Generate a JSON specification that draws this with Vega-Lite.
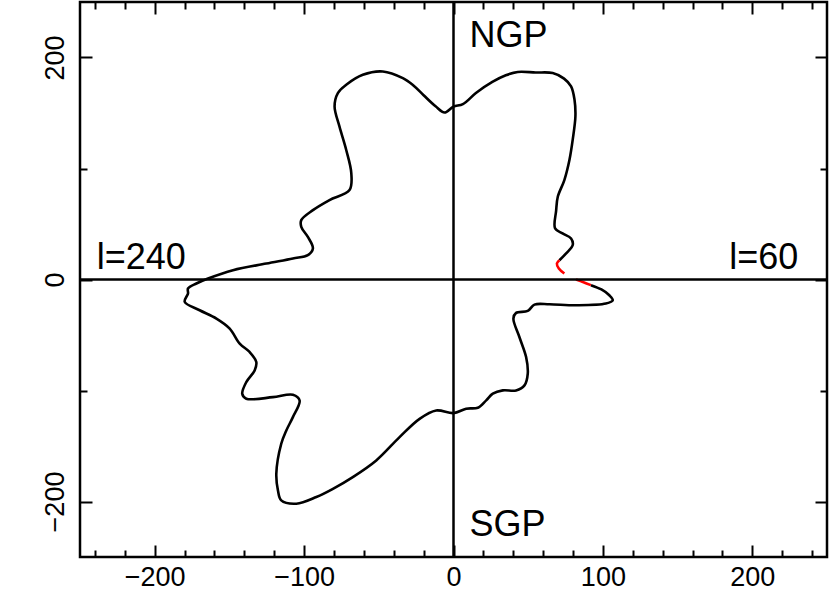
{
  "$schema": "https://vega.github.io/schema/vega-lite/v6.json",
  "width": 747,
  "height": 555,
  "autosize": {"type": "none"},
  "padding": {"left": 80, "top": 2, "right": 4, "bottom": 33},
  "background": "white",
  "config": {
    "view": {"stroke": "black", "strokeWidth": 2.5},
    "axis": {"domain": false, "grid": false, "title": null, "tickColor": "black", "tickWidth": 2, "labelColor": "black", "labelFont": "Liberation Sans", "labelFontSize": 27, "labelFlush": false, "labelOverlap": false}
  },
  "datasets": {
    "curve": [
      {"seg": "b", "i": 1, "x": 92, "y": -5.1},
      {"seg": "b", "i": 2, "x": 99, "y": -9},
      {"seg": "b", "i": 3, "x": 104.3, "y": -14.2},
      {"seg": "b", "i": 4, "x": 106.6, "y": -18.7},
      {"seg": "b", "i": 5, "x": 102, "y": -21.7},
      {"seg": "b", "i": 6, "x": 82, "y": -23.2},
      {"seg": "b", "i": 7, "x": 64.2, "y": -22.3},
      {"seg": "b", "i": 8, "x": 54.2, "y": -22.6},
      {"seg": "b", "i": 9, "x": 49.7, "y": -28.3},
      {"seg": "b", "i": 10, "x": 41.9, "y": -30.1},
      {"seg": "b", "i": 11, "x": 40.1, "y": -35.2},
      {"seg": "b", "i": 12, "x": 44.1, "y": -51.8},
      {"seg": "b", "i": 13, "x": 48.6, "y": -69.9},
      {"seg": "b", "i": 14, "x": 49.7, "y": -84.8},
      {"seg": "b", "i": 15, "x": 47.5, "y": -95.4},
      {"seg": "b", "i": 16, "x": 41.9, "y": -99.9},
      {"seg": "b", "i": 17, "x": 33, "y": -99.9},
      {"seg": "b", "i": 18, "x": 26.3, "y": -102.9},
      {"seg": "b", "i": 19, "x": 21.9, "y": -108.9},
      {"seg": "b", "i": 20, "x": 16.3, "y": -115.5},
      {"seg": "b", "i": 21, "x": 8.5, "y": -116.4},
      {"seg": "b", "i": 22, "x": 0, "y": -120.4},
      {"seg": "b", "i": 23, "x": -11.6, "y": -118},
      {"seg": "b", "i": 24, "x": -22.7, "y": -125.5},
      {"seg": "b", "i": 25, "x": -36.1, "y": -142},
      {"seg": "b", "i": 26, "x": -51.7, "y": -163},
      {"seg": "b", "i": 27, "x": -67.4, "y": -178},
      {"seg": "b", "i": 28, "x": -80.7, "y": -188.6},
      {"seg": "b", "i": 29, "x": -91.8, "y": -196},
      {"seg": "b", "i": 30, "x": -105.2, "y": -202},
      {"seg": "b", "i": 31, "x": -115.3, "y": -199},
      {"seg": "b", "i": 32, "x": -117.5, "y": -190},
      {"seg": "b", "i": 33, "x": -118.6, "y": -175},
      {"seg": "b", "i": 34, "x": -115.3, "y": -148},
      {"seg": "b", "i": 35, "x": -111.9, "y": -136},
      {"seg": "b", "i": 36, "x": -107.5, "y": -124},
      {"seg": "b", "i": 37, "x": -103, "y": -109},
      {"seg": "b", "i": 38, "x": -107.5, "y": -103.8},
      {"seg": "b", "i": 39, "x": -120.9, "y": -106},
      {"seg": "b", "i": 40, "x": -138.7, "y": -107.4},
      {"seg": "b", "i": 41, "x": -141.4, "y": -103},
      {"seg": "b", "i": 42, "x": -138.7, "y": -92.4},
      {"seg": "b", "i": 43, "x": -133.1, "y": -81.9},
      {"seg": "b", "i": 44, "x": -132, "y": -74.4},
      {"seg": "b", "i": 45, "x": -136.5, "y": -65.3},
      {"seg": "b", "i": 46, "x": -143.1, "y": -57.8},
      {"seg": "b", "i": 47, "x": -149.8, "y": -44.2},
      {"seg": "b", "i": 48, "x": -158.7, "y": -35.2},
      {"seg": "b", "i": 49, "x": -169.9, "y": -27.7},
      {"seg": "b", "i": 50, "x": -179.9, "y": -20.2},
      {"seg": "b", "i": 51, "x": -177.7, "y": -12.6},
      {"seg": "b", "i": 52, "x": -177.7, "y": -8.1},
      {"seg": "b", "i": 53, "x": -172.1, "y": -3.6},
      {"seg": "b", "i": 54, "x": -164.3, "y": 0.9},
      {"seg": "b", "i": 55, "x": -147.6, "y": 8.4},
      {"seg": "b", "i": 56, "x": -125.3, "y": 14.4},
      {"seg": "b", "i": 57, "x": -107.5, "y": 19},
      {"seg": "b", "i": 58, "x": -97.5, "y": 21.9},
      {"seg": "b", "i": 59, "x": -94.1, "y": 28},
      {"seg": "b", "i": 60, "x": -97.5, "y": 38.4},
      {"seg": "b", "i": 61, "x": -101.9, "y": 47.5},
      {"seg": "b", "i": 62, "x": -101.9, "y": 53.5},
      {"seg": "b", "i": 63, "x": -94.1, "y": 62.5},
      {"seg": "b", "i": 64, "x": -83, "y": 71.6},
      {"seg": "b", "i": 65, "x": -69.6, "y": 80.6},
      {"seg": "b", "i": 66, "x": -68.4, "y": 95.7},
      {"seg": "b", "i": 67, "x": -71.8, "y": 116.7},
      {"seg": "b", "i": 68, "x": -76.3, "y": 137.7},
      {"seg": "b", "i": 69, "x": -79.6, "y": 155.8},
      {"seg": "b", "i": 70, "x": -77.4, "y": 167.9},
      {"seg": "b", "i": 71, "x": -71.8, "y": 175.4},
      {"seg": "b", "i": 72, "x": -60.7, "y": 184.4},
      {"seg": "b", "i": 73, "x": -47.3, "y": 187.4},
      {"seg": "b", "i": 74, "x": -33.9, "y": 181.4},
      {"seg": "b", "i": 75, "x": -27, "y": 175},
      {"seg": "b", "i": 76, "x": -20, "y": 166},
      {"seg": "b", "i": 77, "x": -12, "y": 156},
      {"seg": "b", "i": 78, "x": -6, "y": 150.4},
      {"seg": "b", "i": 79, "x": 0, "y": 155.8},
      {"seg": "b", "i": 80, "x": 6.3, "y": 158},
      {"seg": "b", "i": 81, "x": 15, "y": 168},
      {"seg": "b", "i": 82, "x": 26, "y": 178},
      {"seg": "b", "i": 83, "x": 35, "y": 184},
      {"seg": "b", "i": 84, "x": 43, "y": 187},
      {"seg": "b", "i": 85, "x": 55, "y": 186.5},
      {"seg": "b", "i": 86, "x": 66.4, "y": 186},
      {"seg": "b", "i": 87, "x": 74, "y": 181},
      {"seg": "b", "i": 88, "x": 78.7, "y": 174},
      {"seg": "b", "i": 89, "x": 81, "y": 162},
      {"seg": "b", "i": 90, "x": 81.6, "y": 147},
      {"seg": "b", "i": 91, "x": 79.8, "y": 126},
      {"seg": "b", "i": 92, "x": 77.6, "y": 107.7},
      {"seg": "b", "i": 93, "x": 74.2, "y": 89.6},
      {"seg": "b", "i": 94, "x": 69.8, "y": 74.5},
      {"seg": "b", "i": 95, "x": 68.7, "y": 62},
      {"seg": "b", "i": 96, "x": 68, "y": 46},
      {"seg": "b", "i": 97, "x": 73, "y": 41.5},
      {"seg": "b", "i": 98, "x": 78.7, "y": 37},
      {"seg": "b", "i": 99, "x": 79.8, "y": 31},
      {"seg": "b", "i": 100, "x": 75.4, "y": 23.5},
      {"seg": "b", "i": 101, "x": 70.9, "y": 17.4}
    ],
    "red": [
      {"seg": "r1", "i": 1, "x": 70.9, "y": 17.4},
      {"seg": "r1", "i": 2, "x": 69.2, "y": 14.4},
      {"seg": "r1", "i": 3, "x": 70.5, "y": 9.9},
      {"seg": "r1", "i": 4, "x": 74.2, "y": 5.4},
      {"seg": "r2", "i": 1, "x": 82, "y": 0},
      {"seg": "r2", "i": 2, "x": 87, "y": -2.5},
      {"seg": "r2", "i": 3, "x": 92, "y": -5.1}
    ],
    "labels": [
      {"label": "NGP", "x": 10.7, "y": 209.6},
      {"label": "SGP", "x": 10.7, "y": -230.8},
      {"label": "l=240", "x": -238.8, "y": 9.3},
      {"label": "l=60", "x": 184.6, "y": 9.3}
    ]
  },
  "resolve": {"axis": {"x": "independent", "y": "independent"}},
  "layer": [
    {
      "data": {"name": "curve"},
      "mark": {"type": "line", "color": "black", "strokeWidth": 2.6, "interpolate": "catmull-rom", "strokeJoin": "round"},
      "encoding": {
        "x": {"field": "x", "type": "quantitative", "scale": {"domain": [-250, 250], "nice": false, "zero": false},
              "axis": {"orient": "bottom", "values": [-200, -100, 0, 100, 200], "tickSize": -12, "labelPadding": 19}},
        "y": {"field": "y", "type": "quantitative", "scale": {"domain": [-250, 250], "nice": false, "zero": false},
              "axis": {"orient": "left", "values": [-200, 0, 200], "tickSize": -12, "labelAngle": 270, "labelPadding": 23}},
        "order": {"field": "i", "type": "quantitative"},
        "detail": {"field": "seg"}
      }
    },
    {
      "data": {"name": "red"},
      "mark": {"type": "line", "color": "#ff0000", "strokeWidth": 2.6, "interpolate": "catmull-rom", "strokeJoin": "round"},
      "encoding": {
        "x": {"field": "x", "type": "quantitative", "scale": {"domain": [-250, 250], "nice": false, "zero": false},
              "axis": {"orient": "bottom", "values": [-240, -220, -180, -160, -140, -120, -80, -60, -40, -20, 20, 40, 60, 80, 120, 140, 160, 180, 220, 240], "tickSize": -7, "labels": false}},
        "y": {"field": "y", "type": "quantitative", "scale": {"domain": [-250, 250], "nice": false, "zero": false},
              "axis": {"orient": "left", "values": [-100, 100], "tickSize": -7, "labels": false}},
        "order": {"field": "i", "type": "quantitative"},
        "detail": {"field": "seg"}
      }
    },
    {
      "data": {"name": "labels"},
      "mark": {"type": "text", "align": "left", "baseline": "alphabetic", "font": "Liberation Sans", "fontSize": 36, "color": "black"},
      "encoding": {
        "x": {"field": "x", "type": "quantitative", "scale": {"domain": [-250, 250], "nice": false, "zero": false},
              "axis": {"orient": "top", "values": [-200, -100, 0, 100, 200], "tickSize": -12, "labels": false}},
        "y": {"field": "y", "type": "quantitative", "scale": {"domain": [-250, 250], "nice": false, "zero": false},
              "axis": {"orient": "right", "values": [-200, 0, 200], "tickSize": -12, "labels": false}},
        "text": {"field": "label"}
      }
    },
    {
      "data": {"values": [{"v": 0}]},
      "mark": {"type": "rule", "color": "black", "strokeWidth": 2.5},
      "encoding": {
        "y": {"field": "v", "type": "quantitative", "scale": {"domain": [-250, 250], "nice": false, "zero": false},
              "axis": {"orient": "right", "values": [-100, 100], "tickSize": -7, "labels": false}}
      }
    },
    {
      "data": {"values": [{"v": 0}]},
      "mark": {"type": "rule", "color": "black", "strokeWidth": 2.5},
      "encoding": {
        "x": {"field": "v", "type": "quantitative", "scale": {"domain": [-250, 250], "nice": false, "zero": false},
              "axis": {"orient": "top", "values": [-240, -220, -180, -160, -140, -120, -80, -60, -40, -20, 20, 40, 60, 80, 120, 140, 160, 180, 220, 240], "tickSize": -7, "labels": false}}
      }
    }
  ]
}
